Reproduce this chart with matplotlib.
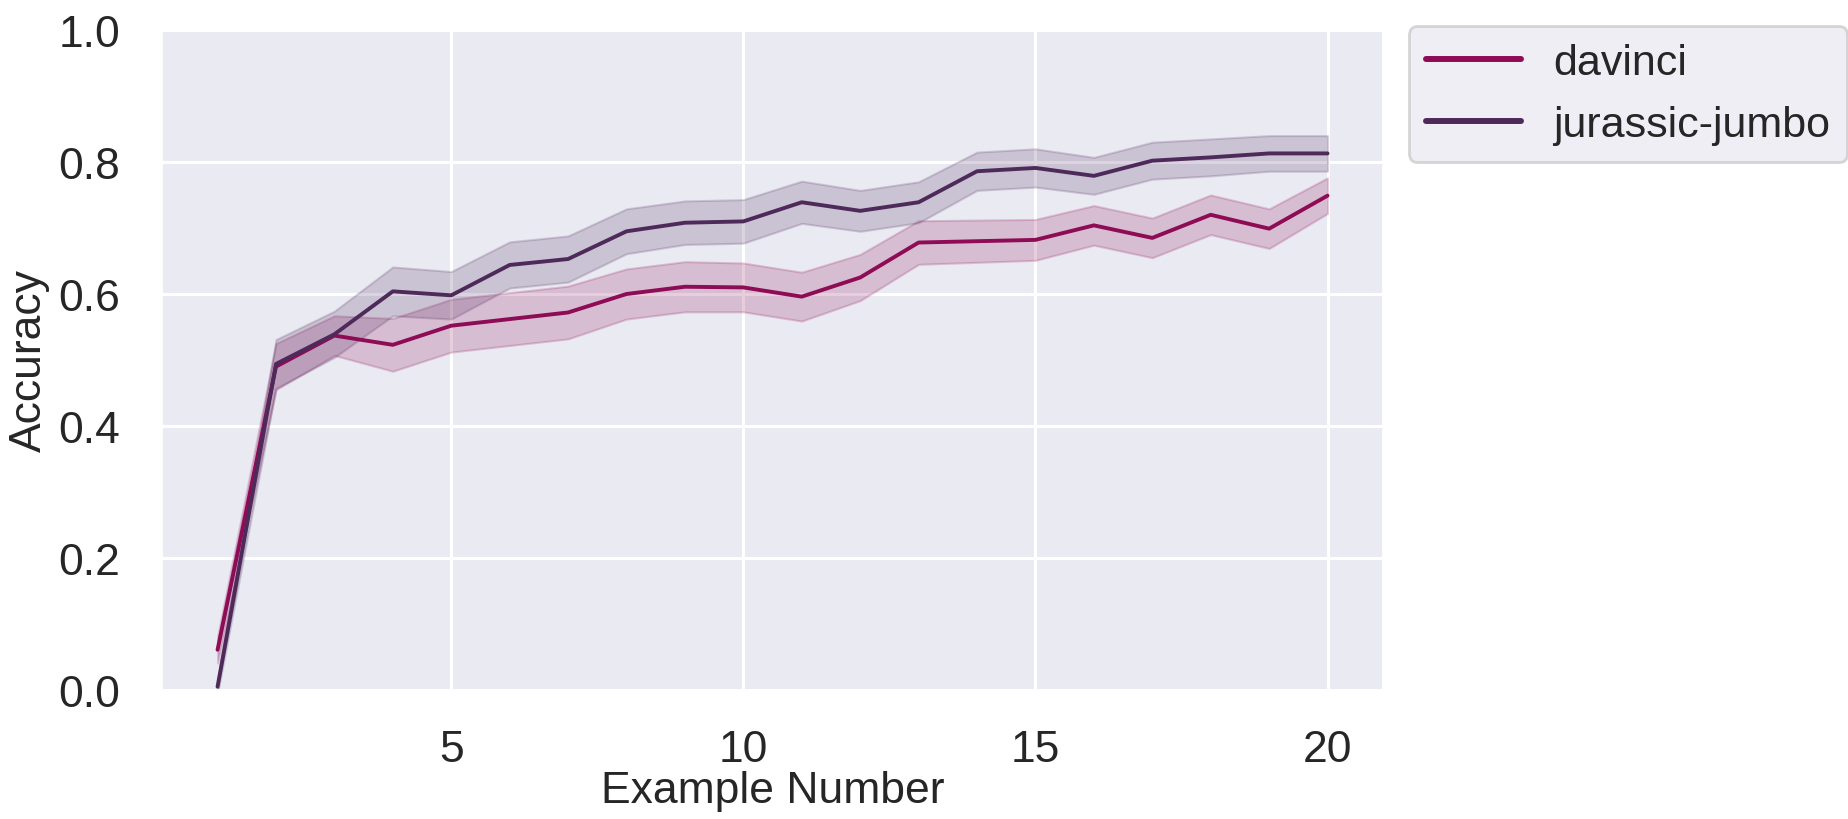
import numpy as np
import matplotlib
matplotlib.use("Agg")
import matplotlib.pyplot as plt
import seaborn as sns

sns.set_theme(style="darkgrid")
plt.rcParams["font.family"] = ["Liberation Sans", "DejaVu Sans"]

example_number = np.arange(1, 21)

davinci_acc = [0.061, 0.49, 0.537, 0.523, 0.552, 0.562, 0.572, 0.600, 0.611, 0.610,
               0.596, 0.625, 0.678, 0.680, 0.682, 0.704, 0.685, 0.720, 0.699, 0.749]
davinci_ci = [0.02, 0.035, 0.03, 0.04, 0.04, 0.04, 0.04, 0.038, 0.038, 0.037,
              0.037, 0.035, 0.033, 0.032, 0.031, 0.030, 0.030, 0.030, 0.030, 0.027]

jumbo_acc = [0.005, 0.494, 0.539, 0.604, 0.598, 0.644, 0.653, 0.695, 0.708, 0.710,
             0.739, 0.726, 0.739, 0.786, 0.791, 0.779, 0.802, 0.807, 0.813, 0.813]
jumbo_ci = [0.01, 0.037, 0.035, 0.037, 0.036, 0.035, 0.035, 0.034, 0.033, 0.033,
            0.032, 0.031, 0.031, 0.029, 0.029, 0.028, 0.028, 0.028, 0.027, 0.027]

models = ["davinci", "jurassic-jumbo"]
colors = ["#8e0b55", "#4e2a5a"]

fig, ax = plt.subplots(figsize=(18.48, 8.2), dpi=100)
fig.subplots_adjust(left=0.0877, right=0.7484, top=0.9622, bottom=0.1573)

for name, acc, ci, c in zip(models, [davinci_acc, jumbo_acc], [davinci_ci, jumbo_ci], colors):
    acc = np.array(acc)
    ci = np.array(ci)
    ax.fill_between(example_number, acc - ci, acc + ci, color=c, alpha=0.2, linewidth=1.5)
    ax.plot(example_number, acc, color=c, linewidth=2.8, label=name)

ax.set_xlim(0.05, 20.95)
ax.set_ylim(0, 1)
ax.set_xticks([5, 10, 15, 20])
ax.set_yticks([0.0, 0.2, 0.4, 0.6, 0.8, 1.0])
ax.tick_params(axis="both", labelsize=32, pad=24, colors="#262626")
ax.tick_params(axis="x", pad=22)
ax.grid(linewidth=2.2)
ax.set_xlabel("Example Number", fontsize=32, color="#262626", labelpad=0)
ax.set_ylabel("Accuracy", fontsize=32, color="#262626", labelpad=6)

leg = ax.legend(loc="upper left", bbox_to_anchor=(1.021, 1.006), borderaxespad=0,
                fontsize=31, frameon=True, handlelength=2.2, handletextpad=0.75)
leg.get_frame().set_facecolor("#eaeaf2")
leg.get_frame().set_edgecolor("#cccccc")
leg.get_frame().set_linewidth(2)
for line in leg.get_lines():
    line.set_linewidth(4.3)
for t in leg.get_texts():
    t.set_color("#262626")

fig.savefig("out.png", dpi=100)
